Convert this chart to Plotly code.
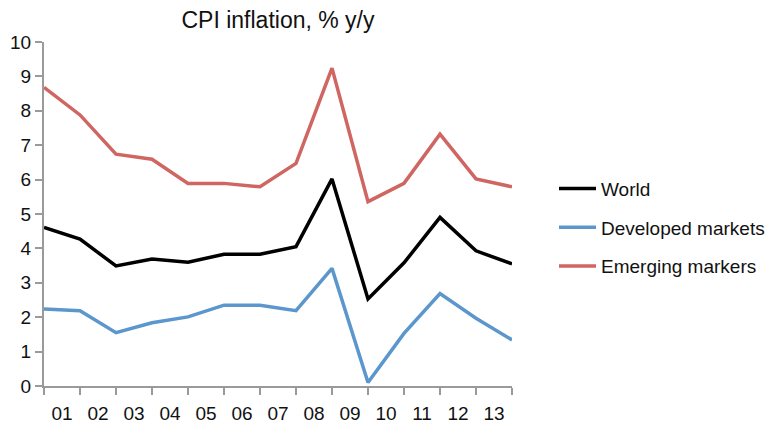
import plotly.graph_objects as go

# year labels sit between the data points
years = ["01", "02", "03", "04", "05", "06", "07", "08", "09", "10", "11", "12", "13"]

world = [4.61, 4.27, 3.49, 3.69, 3.60, 3.83, 3.83, 4.05, 6.02, 2.53, 3.58, 4.90, 3.93, 3.55]
developed = [2.24, 2.19, 1.55, 1.84, 2.01, 2.35, 2.35, 2.19, 3.42, 0.10, 1.53, 2.69, 1.97, 1.34]
emerging = [8.68, 7.88, 6.74, 6.59, 5.89, 5.89, 5.79, 6.47, 9.24, 5.36, 5.89, 7.32, 6.02, 5.79]

x_pos = list(range(len(world)))
label_pos = [i + 0.5 for i in range(len(years))]

FONT = "Liberation Sans, Arial, sans-serif"
AXIS_GREY = "#9a9a9a"
TEXT = "#111111"

fig = go.Figure()

series = [
    ("World", world, "#000000"),
    ("Developed markets", developed, "#5b97cc"),
    ("Emerging markers", emerging, "#cf6662"),
]
for name, vals, color in series:
    fig.add_trace(
        go.Scatter(
            x=x_pos,
            y=vals,
            mode="lines",
            name=name,
            legendgroup=name,
            line=dict(color=color, width=3.5),
            cliponaxis=False,
        )
    )

# the page body has an 8px margin, so the figure is a bit smaller than the window
fig.update_layout(
    width=772,
    height=416,
    paper_bgcolor="white",
    plot_bgcolor="white",
    font=dict(family=FONT, size=19, color=TEXT),
    title=dict(
        text="CPI inflation, % y/y",
        x=(36 + 504) / 2 / 772,
        xanchor="center",
        y=1 - 12 / 416,
        yanchor="middle",
        font=dict(size=23, color=TEXT),
    ),
    margin=dict(l=36, r=268, t=34, b=38),
    showlegend=True,
    legend=dict(
        xref="container",
        x=546 / 772,
        y=0.46,
        xanchor="left",
        yanchor="middle",
        traceorder="grouped",
        tracegroupgap=11,
        itemwidth=37,
        font=dict(size=19, color=TEXT),
        bgcolor="rgba(0,0,0,0)",
    ),
    xaxis=dict(
        range=[0, 13],
        tickvals=label_pos,
        ticktext=years,
        ticks="",
        ticklabelstandoff=9,
        automargin=False,
        showgrid=False,
        zeroline=False,
        showline=True,
        linecolor=AXIS_GREY,
        linewidth=2,
        minor=dict(
            tickvals=x_pos,
            ticks="outside",
            ticklen=7,
            tickwidth=2,
            tickcolor=AXIS_GREY,
            showgrid=False,
        ),
        fixedrange=True,
    ),
    yaxis=dict(
        range=[0, 10],
        dtick=1,
        ticks="outside",
        ticklen=7,
        tickwidth=2,
        tickcolor=AXIS_GREY,
        automargin=False,
        showgrid=False,
        zeroline=False,
        showline=True,
        linecolor=AXIS_GREY,
        linewidth=2,
        fixedrange=True,
    ),
)

fig.write_html("out.html")
